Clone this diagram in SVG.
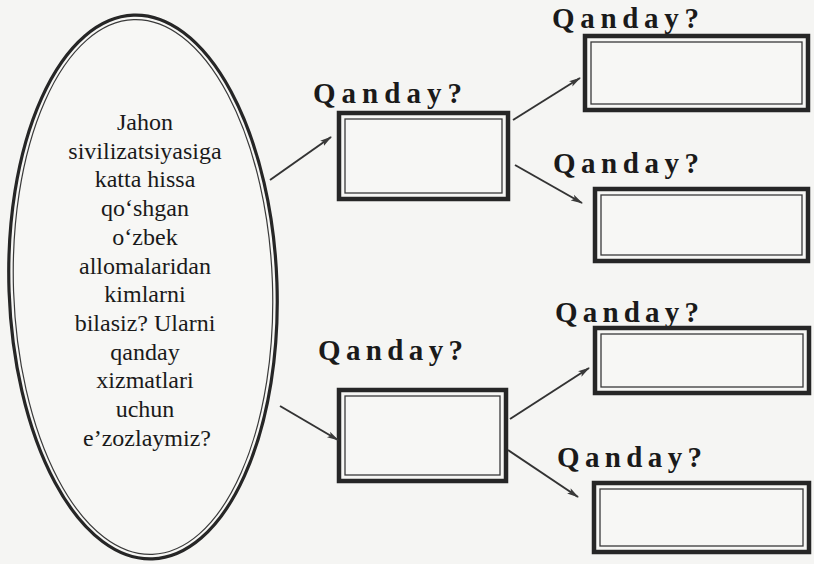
<svg xmlns="http://www.w3.org/2000/svg" width="814" height="564" viewBox="0 0 814 564">
  <defs>
    <marker id="ah" viewBox="0 0 12 8" refX="11" refY="4" markerWidth="12" markerHeight="8" markerUnits="userSpaceOnUse" orient="auto">
      <path d="M0,0.8 L12,4 L0,7.2 L2.5,4 Z" fill="#3a3a3a"/>
    </marker>
  </defs>
  <style>
    .bg { fill: #f5f5f3; }
    .outer { fill: #f7f7f5; stroke: #262626; stroke-width: 4.5; }
    .inner { fill: none; stroke: #3a3a3a; stroke-width: 1.3; }
    .ell-o { fill: #f7f7f5; stroke: #262626; stroke-width: 3.2; }
    .ell-i { fill: none; stroke: #3a3a3a; stroke-width: 1.2; }
    .q { font-family: "Liberation Serif", "Times New Roman", serif; font-weight: bold; font-size: 29px; fill: #1a1a1a; }
    .t { font-family: "Liberation Serif", "Times New Roman", serif; font-size: 24px; fill: #1a1a1a; text-anchor: middle; }
    .c { fill: none; stroke: #333333; stroke-width: 2; marker-end: url(#ah); }
  </style>
  <rect class="bg" x="0" y="0" width="814" height="564"/>

  <g id="ellipse-node">
    <g transform="rotate(-2 143 287)">
      <ellipse class="ell-o" cx="143" cy="287" rx="134" ry="272"/>
      <ellipse class="ell-i" cx="143" cy="287" rx="129.5" ry="267.5"/>
    </g>
    <text class="t" x="145" y="130">Jahon</text>
    <text class="t" x="145" y="158.7">sivilizatsiyasiga</text>
    <text class="t" x="145" y="187.4">katta hissa</text>
    <text class="t" x="145" y="216.1">qo‘shgan</text>
    <text class="t" x="145" y="244.8">o‘zbek</text>
    <text class="t" x="145" y="273.5">allomalaridan</text>
    <text class="t" x="145" y="302.2">kimlarni</text>
    <text class="t" x="145" y="330.9">bilasiz? Ularni</text>
    <text class="t" x="145" y="359.6">qanday</text>
    <text class="t" x="145" y="388.3">xizmatlari</text>
    <text class="t" x="145" y="417">uchun</text>
    <text class="t" x="147" y="446">e’zozlaymiz?</text>
  </g>

  <g id="box-a">
    <text class="q" x="313" y="103" textLength="149" lengthAdjust="spacing">Qanday?</text>
    <rect class="outer" x="339" y="113" width="169" height="86"/>
    <rect class="inner" x="345" y="119" width="157" height="74"/>
  </g>
  <g id="box-b">
    <text class="q" x="552" y="28" textLength="147" lengthAdjust="spacing">Qanday?</text>
    <rect class="outer" x="585" y="36" width="223" height="74"/>
    <rect class="inner" x="591" y="42" width="211" height="62"/>
  </g>
  <g id="box-c">
    <text class="q" x="553" y="173" textLength="146" lengthAdjust="spacing">Qanday?</text>
    <rect class="outer" x="595" y="189" width="213" height="72"/>
    <rect class="inner" x="601" y="195" width="201" height="60"/>
  </g>
  <g id="box-d">
    <text class="q" x="318" y="360" textLength="145" lengthAdjust="spacing">Qanday?</text>
    <rect class="outer" x="339" y="390" width="167" height="91"/>
    <rect class="inner" x="345" y="396" width="155" height="79"/>
  </g>
  <g id="box-e">
    <text class="q" x="555" y="322" textLength="144" lengthAdjust="spacing">Qanday?</text>
    <rect class="outer" x="595" y="328" width="214" height="65"/>
    <rect class="inner" x="601" y="334" width="202" height="53"/>
  </g>
  <g id="box-f">
    <text class="q" x="557" y="467" textLength="145" lengthAdjust="spacing">Qanday?</text>
    <rect class="outer" x="594" y="483" width="215" height="69"/>
    <rect class="inner" x="600" y="489" width="203" height="57"/>
  </g>

  <g id="connectors">
    <line class="c" x1="270" y1="180" x2="331" y2="137"/>
    <line class="c" x1="513" y1="120" x2="580" y2="78"/>
    <line class="c" x1="515" y1="165" x2="582" y2="203"/>
    <line class="c" x1="280" y1="406" x2="338" y2="440"/>
    <line class="c" x1="510" y1="419" x2="589" y2="368"/>
    <line class="c" x1="508" y1="450" x2="578" y2="497"/>
  </g>
</svg>
